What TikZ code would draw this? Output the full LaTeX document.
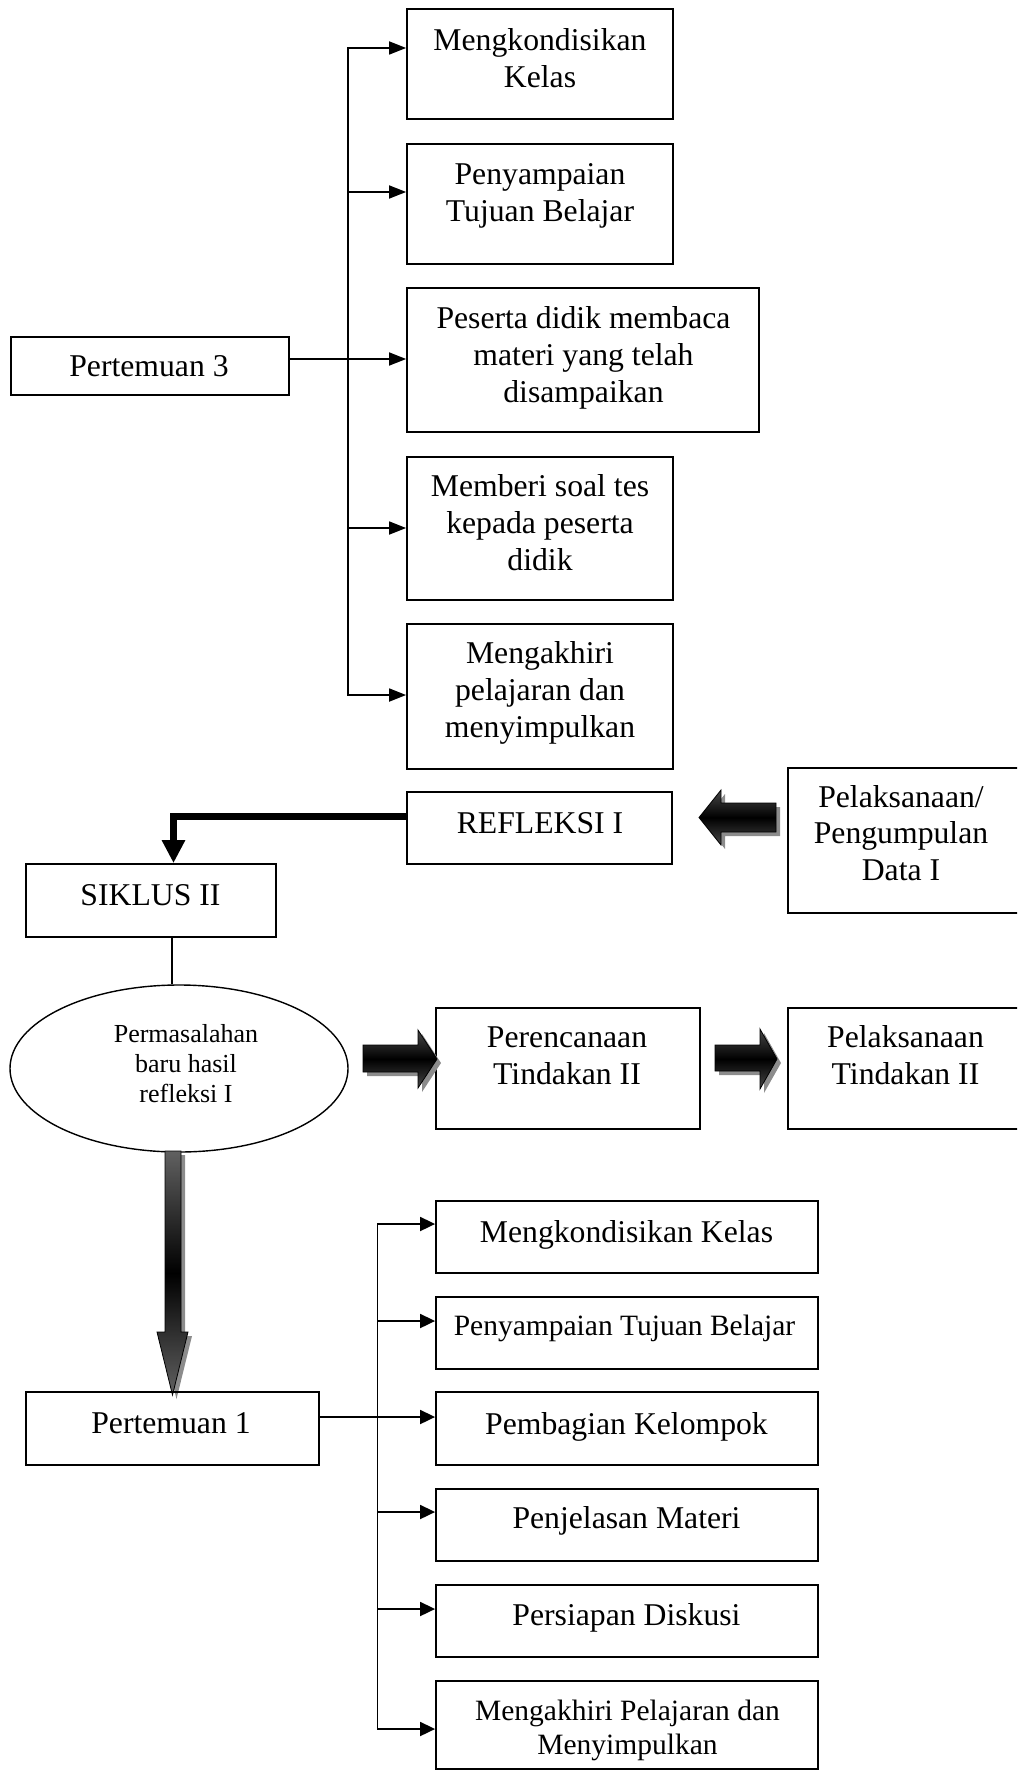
\documentclass[tikz,border=0pt]{standalone}
\usepackage{fontspec}
\setmainfont{Liberation Serif}
\usetikzlibrary{arrows.meta,fit,shapes.geometric}
\colorlet{shadowgray}{black!45}
% glossy block arrow: #1 shading keys, #2 outline path
\newcommand\glossyarrow[2]{%
  \fill[shadowgray, xshift=4pt, yshift=-4pt] #2;
  \shadedraw[#1, draw=black, line width=0.8pt] #2;}
\begin{document}
\begin{tikzpicture}[x=1pt,y=-1pt,
  box/.style={draw, line width=1.8pt, inner sep=0pt},
  txt/.style={align=center, inner sep=0pt, font=\fontsize{31.7}{37}\selectfont},
  txtsmall/.style={align=center, inner sep=0pt, font=\fontsize{29.5}{34}\selectfont},
  branch/.style={line width=1.8pt, -{Triangle[length=17pt,width=13pt]}},
  branchB/.style={line width=1.8pt, -{Triangle[length=15pt,width=14pt]}},
  glossH/.style={top color=black!72, bottom color=black!72, middle color=black},
  glossV/.style={top color=black!62, bottom color=black!62, middle color=black},
]
\useasboundingbox (0,0) rectangle (1017,1771);
\clip (0,0) rectangle (1017,1771);

% ---------- Pertemuan 3 ----------
\node[box, fit={(11,337) (289,395)}] (p3) {};
\node[txt, anchor=base] (p3T) at (149,376) {Pertemuan 3};

\node[box, fit={(407,9) (673,119)}] (m1) {};
\node[txt] (m1T) at (540,58) {Mengkondisikan\\Kelas};
\node[box, fit={(407,144) (673,264)}] (m2) {};
\node[txt] (m2T) at (540,195.5) {Penyampaian\\Tujuan Belajar};
\node[box, fit={(407,288) (759,432)}] (m3) {};
\node[txt] (m3T) at (583.5,358) {Peserta didik membaca\\materi yang telah\\disampaikan};
\node[box, fit={(407,457) (673,600)}] (m4) {};
\node[txt] (m4T) at (540,523) {Memberi soal tes\\kepada peserta\\didik};
\node[box, fit={(407,624) (673,769)}] (m5) {};
\node[txt] (m5T) at (540,693) {Mengakhiri\\pelajaran dan\\menyimpulkan};

\coordinate (tt) at (348,48);
\coordinate (t2) at (348,192);
\coordinate (t3) at (348,359);
\coordinate (t4) at (348,528);
\coordinate (tb) at (348,695);
\draw[line width=1.8pt, {Triangle[length=17pt,width=13pt]}-{Triangle[length=17pt,width=13pt]}]
  (tt -| m1.west) -- (tt) -- (tb) -- (tb -| m5.west);
\draw[branch] (t2) -- (t2 -| m2.west);
\draw[branch] (p3.east |- t3) -- (t3 -| m3.west);
\draw[branch] (t4) -- (t4 -| m4.west);

% ---------- Refleksi / Siklus II ----------
\node[box, fit={(407,792) (672,864)}] (refl) {};
\node[txt, anchor=base] (reflT) at (540,833) {REFLEKSI I};
\node[box, fit={(788,768) (1030,913)}] (pel) {};
\node[txt, font=\fontsize{31.7}{36.5}\selectfont] (pelT) at (901,833) {Pelaksanaan/\\Pengumpulan\\Data I};
\node[box, fit={(26,864) (276,937)}] (sik) {};
\node[txt, anchor=base] (sikT) at (150.5,905) {SIKLUS II};

\glossyarrow{glossH}
  {(776,803) -- (721,803) -- (721,790) -- (699,817.5) -- (721,845) -- (721,832) -- (776,832) -- cycle}

\coordinate (rk) at (173.5,816.5);
\draw[line width=7pt, line join=miter, -{Triangle[length=23pt,width=22pt]}]
  (refl.west |- rk) -- (rk) -- (rk |- sik.north);

% ---------- Permasalahan / Perencanaan ----------
\node[ellipse, draw, line width=1.4pt, inner sep=0pt, minimum width=338pt, minimum height=167pt] (el) at (179,1068.5) {};
\node[align=center, inner sep=0pt, font=\fontsize{26}{30}\selectfont] (elT) at (186,1064) {Permasalahan\\baru hasil\\refleksi I};
\coordinate (sl) at (172,950);
\draw[line width=1.2pt] (sik.south -| sl) -- (el.north -| sl);

\node[box, fit={(436,1008) (700,1129)}] (pren) {};
\node[txt] (prenT) at (567,1055.5) {Perencanaan\\Tindakan II};
\node[box, fit={(788,1008) (1030,1129)}] (pelt) {};
\node[txt] (peltT) at (905.5,1055) {Pelaksanaan\\Tindakan II};

\glossyarrow{glossH}
  {(363,1045) -- (418,1045) -- (418,1030) -- (437,1059) -- (418,1088) -- (418,1072) -- (363,1072) -- cycle}
\glossyarrow{glossH}
  {(715,1045) -- (760,1045) -- (760,1029) -- (777,1059) -- (760,1089) -- (760,1071) -- (715,1071) -- cycle}
\glossyarrow{glossV}
  {(165,1151) -- (181,1151) -- (181,1332) -- (188,1332) -- (172.5,1395) -- (157,1332) -- (165,1332) -- cycle}

% ---------- Pertemuan 1 ----------
\node[box, fit={(26,1392) (319,1465)}] (p1) {};
\node[txt, anchor=base] (p1T) at (171,1433) {Pertemuan 1};

\node[box, fit={(436,1201) (818,1273)}] (b1) {};
\node[txt, anchor=base] (b1T) at (626.5,1242) {Mengkondisikan Kelas};
\node[box, fit={(436,1297) (818,1369)}] (b2) {};
\node[txtsmall, anchor=base] (b2T) at (624.5,1335) {Penyampaian Tujuan Belajar};
\node[box, fit={(436,1392) (818,1465)}] (b3) {};
\node[txt, anchor=base] (b3T) at (626.5,1434.4) {Pembagian Kelompok};
\node[box, fit={(436,1489) (818,1561)}] (b4) {};
\node[txt, anchor=base] (b4T) at (626.5,1528) {Penjelasan Materi};
\node[box, fit={(436,1585) (818,1657)}] (b5) {};
\node[txt, anchor=base] (b5T) at (626.5,1625) {Persiapan Diskusi};
\node[box, fit={(436,1681) (818,1769)}] (b6) {};
\node[txtsmall] (b6T) at (627.5,1730) {Mengakhiri Pelajaran dan\\Menyimpulkan};

\coordinate (bt) at (377.5,1224);
\coordinate (c2) at (377.5,1321);
\coordinate (c3) at (377.5,1417);
\coordinate (c4) at (377.5,1512);
\coordinate (c5) at (377.5,1609);
\coordinate (bb) at (377.5,1729);
\draw[line width=1.8pt, {Triangle[length=15pt,width=14pt]}-{Triangle[length=15pt,width=14pt]}]
  (bt -| b1.west) -- (bt) -- (bb) -- (bb -| b6.west);
\draw[branchB] (c2) -- (c2 -| b2.west);
\draw[branchB] (p1.east |- c3) -- (c3 -| b3.west);
\draw[branchB] (c4) -- (c4 -| b4.west);
\draw[branchB] (c5) -- (c5 -| b5.west);
\end{tikzpicture}
\end{document}
